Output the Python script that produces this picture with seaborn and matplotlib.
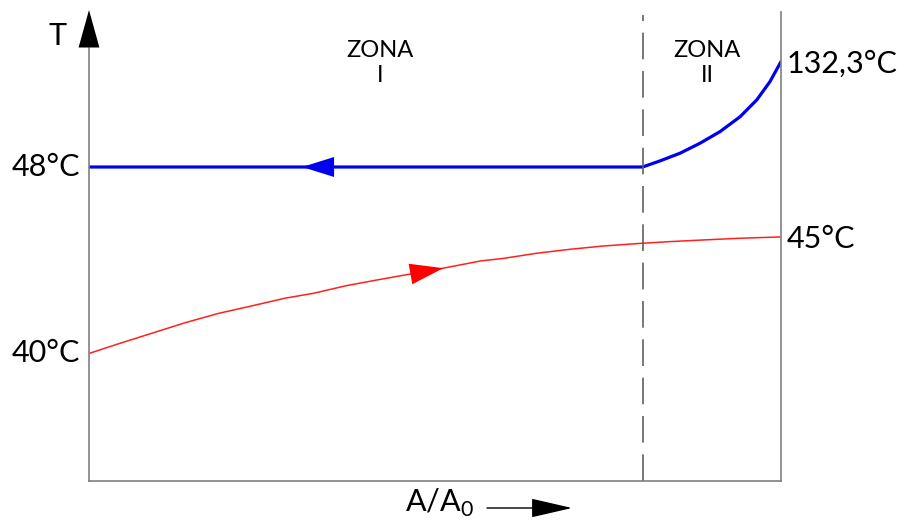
import numpy as np
import pandas as pd
import seaborn as sns
import matplotlib.pyplot as plt

# schematic: y axis is a display scale (40-48 linear), end of blue curve is only labelled 132,3
red_x = [0, 0.042, 0.091, 0.139, 0.187, 0.235, 0.283, 0.324, 0.372, 0.421, 0.512,
         0.566, 0.599, 0.647, 0.695, 0.743, 0.8, 0.84, 0.888, 0.937, 1.0]
red_y = [40.0, 40.41, 40.87, 41.32, 41.72, 42.04, 42.37, 42.58, 42.91, 43.18, 43.66,
         43.97, 44.08, 44.30, 44.47, 44.61, 44.73, 44.80, 44.87, 44.94, 45.0]
blue_x = [0, 0.8, 0.825, 0.854, 0.883, 0.912, 0.941, 0.965, 0.984, 1.0]
blue_y = [48.0, 48.0, 48.26, 48.59, 49.02, 49.52, 50.16, 50.88, 51.66, 52.52]
zone_split = 0.8
left_labels = [(48, '48°C'), (40, '40°C')]
right_labels = [(52.52, '132,3°C'), (45, '45°C')]
zones = [(0.4205, 'ZONA\nI'), (0.893, 'ZONA\nII')]

red = pd.DataFrame({'x': red_x, 'T': red_y})
blue = pd.DataFrame({'x': blue_x, 'T': blue_y})

sns.set_style('white')
plt.rcParams['font.family'] = ['Lato', 'DejaVu Sans']
plt.rcParams['text.color'] = 'black'
plt.rcParams['mathtext.fontset'] = 'custom'
plt.rcParams['mathtext.rm'] = 'Lato'

W, H = 906, 523
fig = plt.figure(figsize=(W / 100, H / 100), dpi=100)
ax = fig.add_axes([89 / W, 42 / H, 692 / W, 471 / H])

sns.lineplot(data=red, x='x', y='T', color='#ff2020', lw=1.1, ax=ax)
sns.lineplot(data=blue, x='x', y='T', color='#0000ee', lw=2.3, ax=ax)

ymin, ymax = 34.53, 54.735
ax.set_xlim(0, 1)
ax.set_ylim(ymin, ymax)
ax.set_xlabel('')
ax.set_ylabel('')
ax.set_xticks([])
ax.set_yticks([])

gray = '#808080'
ax.spines['top'].set_visible(False)
for s in ['left', 'right', 'bottom']:
    ax.spines[s].set_color(gray)
    ax.spines[s].set_linewidth(1.2)
ax.spines['left'].set_bounds(ymin, 53.1)
ax.spines['right'].set_bounds(ymin, 54.65)

# zone separator
ax.plot([zone_split, zone_split], [ymin, 54.52], color='#606060', lw=1.2,
        dashes=(16, 7))

# axis arrow T
ax.annotate('', xy=(0, ymax), xytext=(0, 53.0), xycoords='data',
            arrowprops=dict(arrowstyle='-|>,head_length=2.7,head_width=0.75',
                            mutation_scale=10, color='black', lw=0,
                            shrinkA=0, shrinkB=0), annotation_clip=False)
ax.text(-0.046, 53.6, 'T', fontsize=22, ha='center', va='center')

# flow direction arrows on curves
bx_tip, bx_base = 0.308, 0.354
ax.annotate('', xy=(bx_tip, 48), xytext=(bx_base, 48),
            arrowprops=dict(arrowstyle='-|>,head_length=2.3,head_width=0.72',
                            mutation_scale=10, color='#0000ee', lw=0,
                            shrinkA=0, shrinkB=0))
rx_tip, rx_base = 0.512, 0.465
ax.annotate('', xy=(rx_tip, np.interp(rx_tip, red_x, red_y)),
            xytext=(rx_base, np.interp(rx_base, red_x, red_y)),
            arrowprops=dict(arrowstyle='-|>,head_length=2.4,head_width=0.75',
                            mutation_scale=10, color='#ff0000', lw=0,
                            shrinkA=0, shrinkB=0))

# temperature labels
for v, s in left_labels:
    ax.annotate(s, xy=(0, v), xytext=(-9, 0), textcoords='offset pixels',
                ha='right', va='center', fontsize=22)
for v, s in right_labels:
    ax.annotate(s, xy=(1, v), xytext=(6, -2), textcoords='offset pixels',
                ha='left', va='center', fontsize=22)

for zx, s in zones:
    ax.text(zx, 52.46, s, fontsize=17, ha='center', va='center',
            linespacing=1.2)

# x axis label with arrow
fig.text(440 / W, 1 - 503 / H, r'A/A$_0$', fontsize=22, ha='center', va='center')
fig.patches.append(plt.matplotlib.patches.FancyArrowPatch(
    (487 / W, 1 - 508 / H), (572 / W, 1 - 508 / H), transform=fig.transFigure,
    arrowstyle='-|>,head_length=2.6,head_width=0.6', mutation_scale=10,
    color='black', lw=1.0, shrinkA=0, shrinkB=0))

fig.savefig('out.png', dpi=100)
